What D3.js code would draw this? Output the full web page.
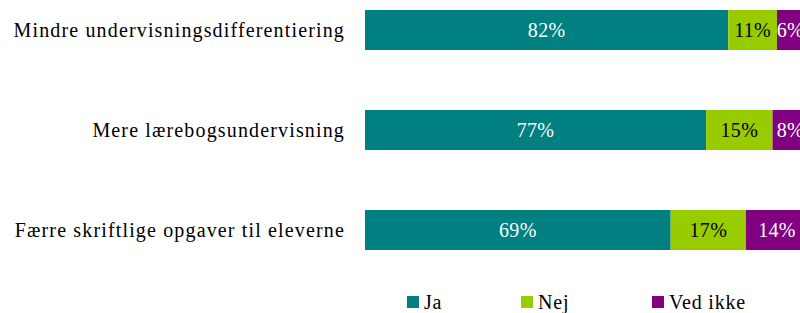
<!DOCTYPE html>
<html>
<head>
<meta charset="utf-8">
<script src="https://cdn.jsdelivr.net/npm/d3@7"></script>
<style>
  body { margin: 0; background: #ffffff; }
  svg { display: block; font-family: "Liberation Serif", "DejaVu Serif", serif; }
</style>
</head>
<body>
<svg id="chart"></svg>
<script>
// Data
const categories = [
    "Mindre undervisningsdifferentiering",
    "Mere lærebogsundervisning",
    "Færre skriftlige opgaver til eleverne"
];
const seriesNames = ["Ja", "Nej", "Ved ikke"];
const ja = [82, 77, 69];
const nej = [11, 15, 17];
const vedIkke = [6, 8, 14];

const colors = ["#008080", "#99cc00", "#800080"];
const labelColors = ["#ffffff", "#000000", "#ffffff"];

// Dimensions
const width = 800;
const height = 313;
const marginLeft = 365;

const svg = d3.select("#chart")
    .attr("width", width)
    .attr("height", height);

// Build stacked rows
const rows = categories.map((c, i) => ({ category: c, Ja: ja[i], Nej: nej[i], "Ved ikke": vedIkke[i] }));
const stacked = d3.stack().keys(seriesNames)(rows);

// Scales
const x = d3.scaleLinear().domain([0, 100]).range([marginLeft, 808]);
const y = d3.scaleBand().domain(categories).range([-20, 280]).paddingInner(0.6).paddingOuter(0.3);

// Bars
const layers = svg.append("g")
    .selectAll("g")
    .data(stacked)
    .join("g")
    .attr("fill", (d, i) => colors[i]);

layers.selectAll("rect")
    .data(d => d)
    .join("rect")
    .attr("x", d => x(d[0]))
    .attr("y", d => y(d.data.category))
    .attr("width", d => x(d[1]) - x(d[0]))
    .attr("height", y.bandwidth());

// Value labels
stacked.forEach((layer, i) => {
    svg.append("g")
        .selectAll("text")
        .data(layer)
        .join("text")
        .attr("x", d => (x(d[0]) + x(d[1])) / 2)
        .attr("y", d => y(d.data.category) + y.bandwidth() / 2)
        .attr("dy", "0.35em")
        .attr("text-anchor", "middle")
        .attr("fill", labelColors[i])
        .style("font-size", "20px")
        .style("letter-spacing", "0.3px")
        .text(d => (d[1] - d[0]) + "%");
});

// Category labels
svg.append("g")
    .selectAll("text")
    .data(categories)
    .join("text")
    .attr("x", 345)
    .attr("y", d => y(d) + y.bandwidth() / 2)
    .attr("dy", "0.35em")
    .attr("text-anchor", "end")
    .attr("fill", "#000000")
    .style("font-size", "20px")
    .style("letter-spacing", "1.15px")
    .text(d => d);

// Legend
const legendX = [407, 521, 652];
const legend = svg.append("g")
    .selectAll("g")
    .data(seriesNames)
    .join("g")
    .attr("transform", (d, i) => `translate(${legendX[i]}, 296)`);

legend.append("rect")
    .attr("width", 12)
    .attr("height", 12)
    .attr("fill", (d, i) => colors[i]);

legend.append("text")
    .attr("x", 17)
    .attr("y", 13)
    .attr("fill", "#000000")
    .style("font-size", "20px")
    .style("letter-spacing", "0.8px")
    .text(d => d);
</script>
</body>
</html>
